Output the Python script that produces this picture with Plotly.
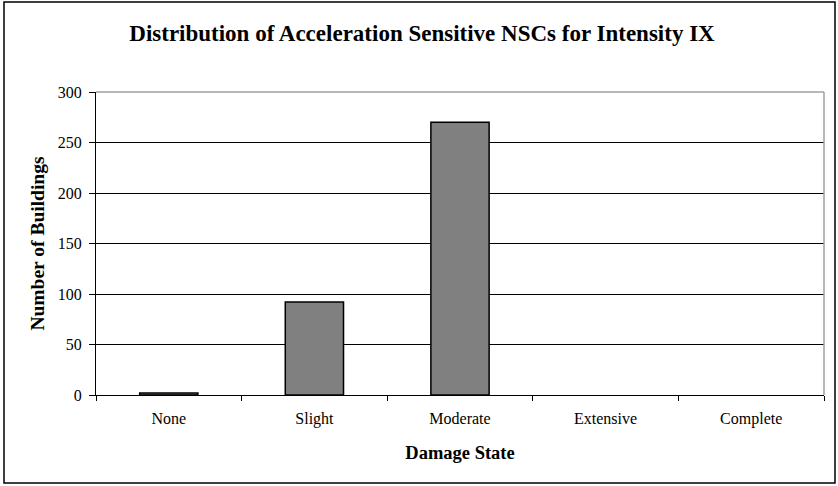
import plotly.graph_objects as go

# Damage-state distribution
damage_states = ["None", "Slight", "Moderate", "Extensive", "Complete"]
building_counts = [2, 92, 270, 0, 0]
y_ticks = [0, 50, 100, 150, 200, 250, 300]

W, H = 838, 486
L, R, T, B = 96, 14, 92, 91
pw, ph = W - L - R, H - T - B

SERIF = '"Liberation Serif", "Times New Roman", Times, serif'

# empty categories get no outline so they don't thicken the axis line
outline_widths = [1.5 if v > 0 else 0 for v in building_counts]

fig = go.Figure(
    go.Bar(
        x=damage_states,
        y=building_counts,
        marker=dict(color="#808080", line=dict(color="#000000", width=outline_widths)),
        width=0.4,
    )
)

# outer chart frame, expressed in paper coordinates of the plot area
fx0, fx1 = (4 - L) / pw, (835 - L) / pw
fy0, fy1 = (H - 483 - B) / ph, (H - 2 - B) / ph

fig.update_layout(
    width=W,
    height=H,
    margin=dict(l=L, r=R, t=T, b=B),
    paper_bgcolor="white",
    plot_bgcolor="white",
    showlegend=False,
    font=dict(family=SERIF, color="#000000", size=14),
    title=dict(
        text="<b>Distribution of Acceleration Sensitive NSCs for Intensity IX</b>",
        x=422 / W,
        xanchor="center",
        y=1 - 33 / H,
        yanchor="middle",
        font=dict(family=SERIF, size=23, color="#000000"),
    ),
    xaxis=dict(
        range=[-0.5, 4.5],
        showgrid=False,
        showline=True,
        linecolor="#000000",
        linewidth=1,
        ticks="outside",
        tickson="boundaries",
        ticklen=5,
        tickcolor="#000000",
        ticklabelstandoff=9,
        tickfont=dict(family=SERIF, size=16),
        title=dict(
            text="<b>Damage State</b>",
            font=dict(family=SERIF, size=18.5),
            standoff=18,
        ),
    ),
    yaxis=dict(
        range=[0, 300],
        tickvals=y_ticks,
        showgrid=True,
        gridcolor="#000000",
        gridwidth=1,
        showline=True,
        linecolor="#000000",
        linewidth=1,
        ticks="outside",
        ticklen=6,
        tickcolor="#000000",
        ticklabelstandoff=4,
        tickfont=dict(family=SERIF, size=16),
        zeroline=False,
        title=dict(
            text="<b>Number of Buildings</b>",
            font=dict(family=SERIF, size=19.5),
            standoff=7,
        ),
    ),
    shapes=[
        # plot-area border (top and right edges)
        dict(type="line", xref="paper", yref="paper", x0=0, x1=1, y0=1, y1=1,
             line=dict(color="#a0a0a0", width=1.5)),
        dict(type="line", xref="paper", yref="paper", x0=1, x1=1, y0=0, y1=1,
             line=dict(color="#a0a0a0", width=1.5)),
        # outer frame
        dict(type="rect", xref="paper", yref="paper",
             x0=fx0, x1=fx1, y0=fy0, y1=fy1,
             line=dict(color="#000000", width=1.5), layer="below"),
    ],
)

fig.write_html("out.html")
